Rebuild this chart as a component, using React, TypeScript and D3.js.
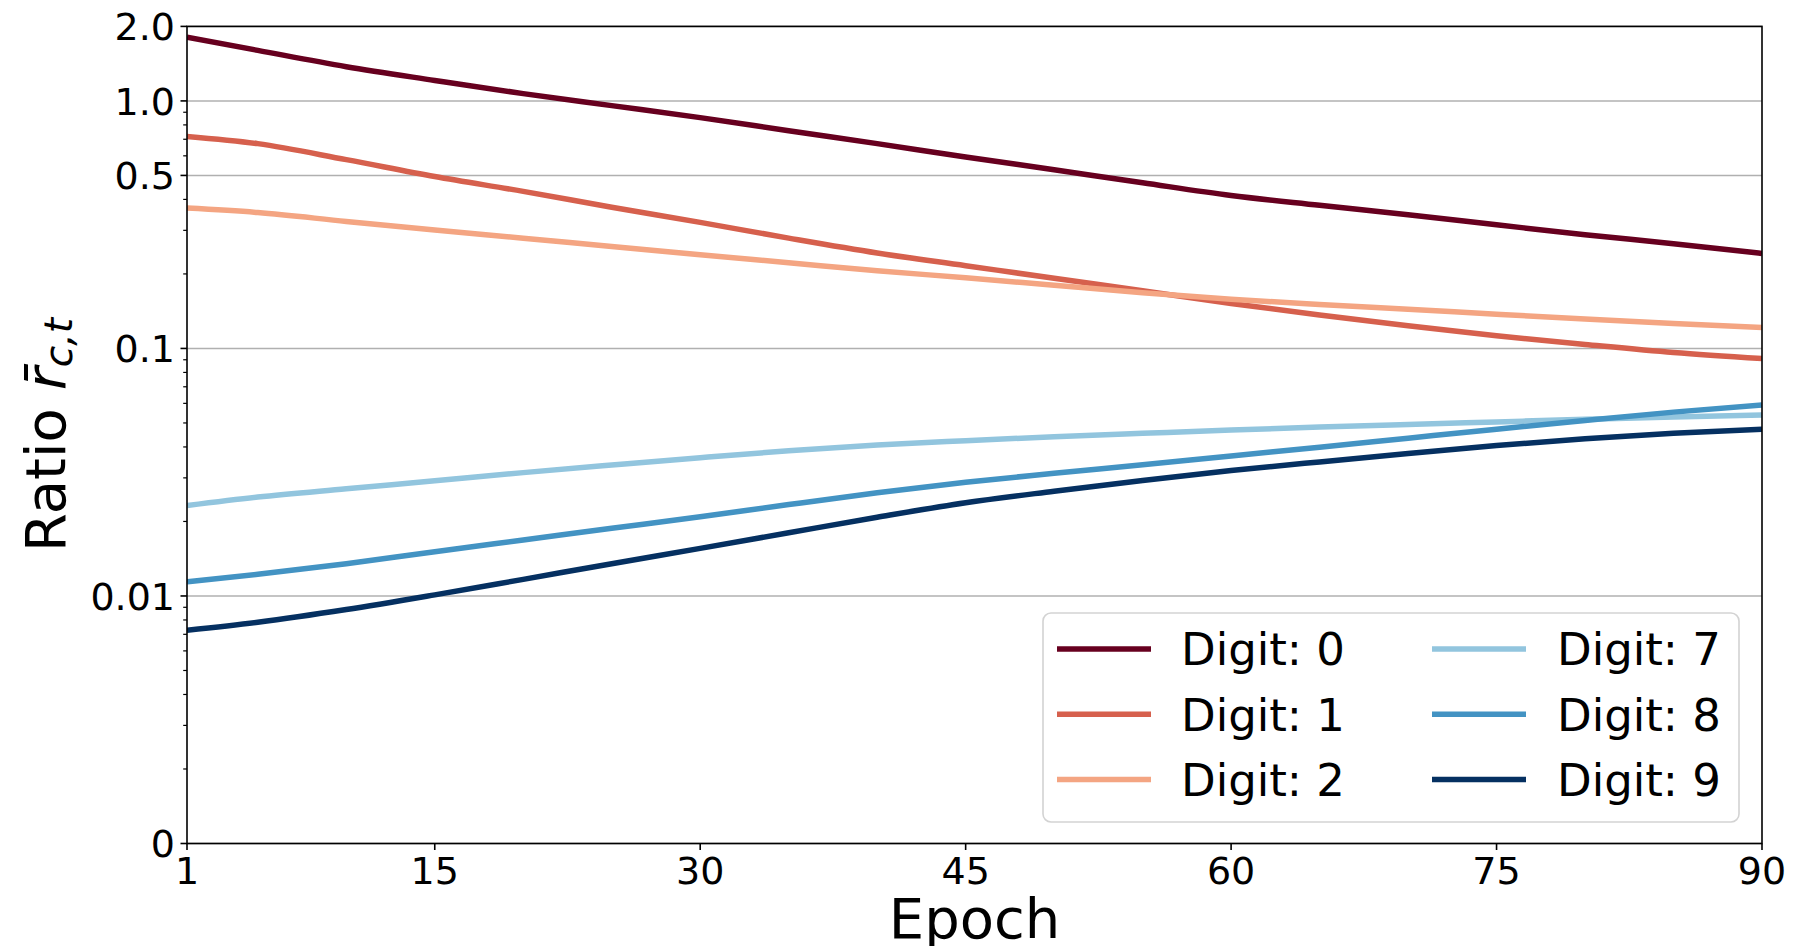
import React from 'react';
import * as d3 from 'd3';

const epochs = [1, 5, 10, 15, 20, 25, 30, 35, 40, 45, 50, 55, 60, 65, 70, 75, 80, 85, 90];
const digit0 = [1.81, 1.6, 1.375, 1.21, 1.07, 0.957, 0.856, 0.758, 0.672, 0.594, 0.527, 0.467, 0.415, 0.379, 0.347, 0.316, 0.288, 0.265, 0.242];
const digit1 = [0.719, 0.672, 0.579, 0.495, 0.431, 0.372, 0.323, 0.279, 0.243, 0.216, 0.192, 0.171, 0.152, 0.1365, 0.1235, 0.1125, 0.1038, 0.0963, 0.091];
const digit2 = [0.369, 0.354, 0.326, 0.301, 0.279, 0.258, 0.239, 0.222, 0.206, 0.193, 0.18, 0.168, 0.158, 0.1505, 0.144, 0.1375, 0.1315, 0.1262, 0.1216];
const digit7 = [0.0232, 0.0251, 0.0271, 0.0292, 0.0315, 0.0338, 0.0362, 0.0386, 0.0407, 0.0424, 0.044, 0.0454, 0.0468, 0.0481, 0.0493, 0.0505, 0.0517, 0.0529, 0.0539];
const digit8 = [0.0114, 0.01223, 0.0135, 0.0151, 0.01683, 0.01876, 0.0209, 0.0234, 0.0261, 0.0288, 0.0313, 0.0339, 0.0368, 0.0399, 0.0434, 0.0472, 0.0512, 0.0553, 0.0591];
const digit9 = [0.00727, 0.00783, 0.00881, 0.0101, 0.01167, 0.0135, 0.01557, 0.018, 0.0208, 0.0238, 0.0265, 0.0293, 0.0321, 0.0348, 0.0376, 0.0405, 0.0432, 0.0454, 0.0472];

const seriesValues = [digit0, digit1, digit2, digit7, digit8, digit9];
const seriesLabels = ['Digit: 0', 'Digit: 1', 'Digit: 2', 'Digit: 7', 'Digit: 8', 'Digit: 9'];
const seriesColors = ['#67001f', '#d6604d', '#f4a582', '#92c5de', '#4393c3', '#053061'];

const xTicks = [1, 15, 30, 45, 60, 75, 90];
const yTicks = [0.001, 0.01, 0.1, 0.5, 1, 2];
const yTickLabels = ['0', '0.01', '0.1', '0.5', '1.0', '2.0'];
const minorMultipliers = [2, 3, 4, 5, 6, 7, 8, 9];
const minorDecades = [0.001, 0.01, 0.1];

const FONT = 'DejaVu Sans, Verdana, sans-serif';

export default function App() {
  const W = 1797;
  const H = 946;
  const left = 187, right = 1762, top = 26.4, bottom = 843.5;
  const x = d3.scaleLinear().domain([1, 90]).range([left, right]);
  const y = d3.scaleLog().domain([0.001, 2]).range([bottom, top]);

  const line = d3
    .line<[number, number]>()
    .x((d) => x(d[0]))
    .y((d) => y(d[1]))
    .curve(d3.curveMonotoneX);

  const minorTicks: number[] = [];
  minorDecades.forEach((dec) => {
    minorMultipliers.forEach((m) => {
      if (dec === 0.1 && m === 5) return;
      minorTicks.push(+(dec * m).toPrecision(3));
    });
  });

  const tickFont = 38;
  const legendFont = 45;
  const labelFont = 56;
  const lw = 5.5;

  const legendX = 1043, legendY = 613, legendW = 696, legendH = 209;
  const rowY0 = 649, rowStep = 65.3;
  const cols = [
    { h0: 1057, h1: 1151, tx: 1181 },
    { h0: 1432, h1: 1526, tx: 1557 },
  ];

  return (
    <svg
      width={W}
      height={H}
      viewBox={`0 0 ${W} ${H}`}
      style={{ position: 'absolute', left: 0, top: 0, background: '#fff' }}
      fontFamily={FONT}
    >
      <rect x={0} y={0} width={W} height={H} fill="#fff" />
      <defs>
        <clipPath id="plotclip">
          <rect x={left} y={top} width={right - left} height={bottom - top} />
        </clipPath>
      </defs>

      {yTicks.map((t) => (
        <line key={'g' + t} x1={left} x2={right} y1={y(t)} y2={y(t)} stroke="#b0b0b0" strokeWidth={1.5} />
      ))}

      <g clipPath="url(#plotclip)">
        {seriesValues.map((vals, i) => (
          <path
            key={seriesLabels[i]}
            d={line(epochs.map((e, j) => [e, vals[j]] as [number, number])) || ''}
            fill="none"
            stroke={seriesColors[i]}
            strokeWidth={lw}
            strokeLinejoin="round"
          />
        ))}
      </g>

      <rect x={left} y={top} width={right - left} height={bottom - top} fill="none" stroke="#000" strokeWidth={1.6} />

      {yTicks.map((t, i) => (
        <g key={'yt' + t}>
          <line x1={left - 6.5} x2={left} y1={y(t)} y2={y(t)} stroke="#000" strokeWidth={1.6} />
          <text x={left - 12} y={y(t) + (tickFont * 0.729) / 2} textAnchor="end" fontSize={tickFont} fill="#000">
            {yTickLabels[i]}
          </text>
        </g>
      ))}
      {minorTicks.map((t) => (
        <line key={'ym' + t} x1={left - 3.8} x2={left} y1={y(t)} y2={y(t)} stroke="#000" strokeWidth={1.2} />
      ))}

      {xTicks.map((t) => (
        <g key={'xt' + t}>
          <line x1={x(t)} x2={x(t)} y1={bottom} y2={bottom + 6.5} stroke="#000" strokeWidth={1.6} />
          <text x={x(t)} y={883.5} textAnchor="middle" fontSize={tickFont} fill="#000">
            {t}
          </text>
        </g>
      ))}

      <text x={(left + right) / 2} y={938} textAnchor="middle" fontSize={labelFont} fill="#000">
        Epoch
      </text>
      <g transform={`translate(65, ${(top + bottom) / 2}) rotate(-90)`}>
        <text x={0} y={0} textAnchor="middle" fontSize={labelFont} fill="#000">
          <tspan>Ratio </tspan>
          <tspan fontStyle="italic">{'r\u0304'}</tspan>
          <tspan fontStyle="italic" fontSize={labelFont * 0.7} dy={7}>
            c,t
          </tspan>
        </text>
      </g>

      <rect
        x={legendX}
        y={legendY}
        width={legendW}
        height={legendH}
        rx={8}
        ry={8}
        fill="#fff"
        fillOpacity={0.8}
        stroke="#d3d3d3"
        strokeWidth={1.6}
      />
      {seriesLabels.map((lab, i) => {
        const c = cols[Math.floor(i / 3)];
        const cy = rowY0 + (i % 3) * rowStep;
        return (
          <g key={'lg' + lab}>
            <line x1={c.h0} x2={c.h1} y1={cy} y2={cy} stroke={seriesColors[i]} strokeWidth={lw} />
            <text x={c.tx} y={cy + (legendFont * 0.729) / 2} fontSize={legendFont} fill="#000">
              {lab}
            </text>
          </g>
        );
      })}
    </svg>
  );
}
